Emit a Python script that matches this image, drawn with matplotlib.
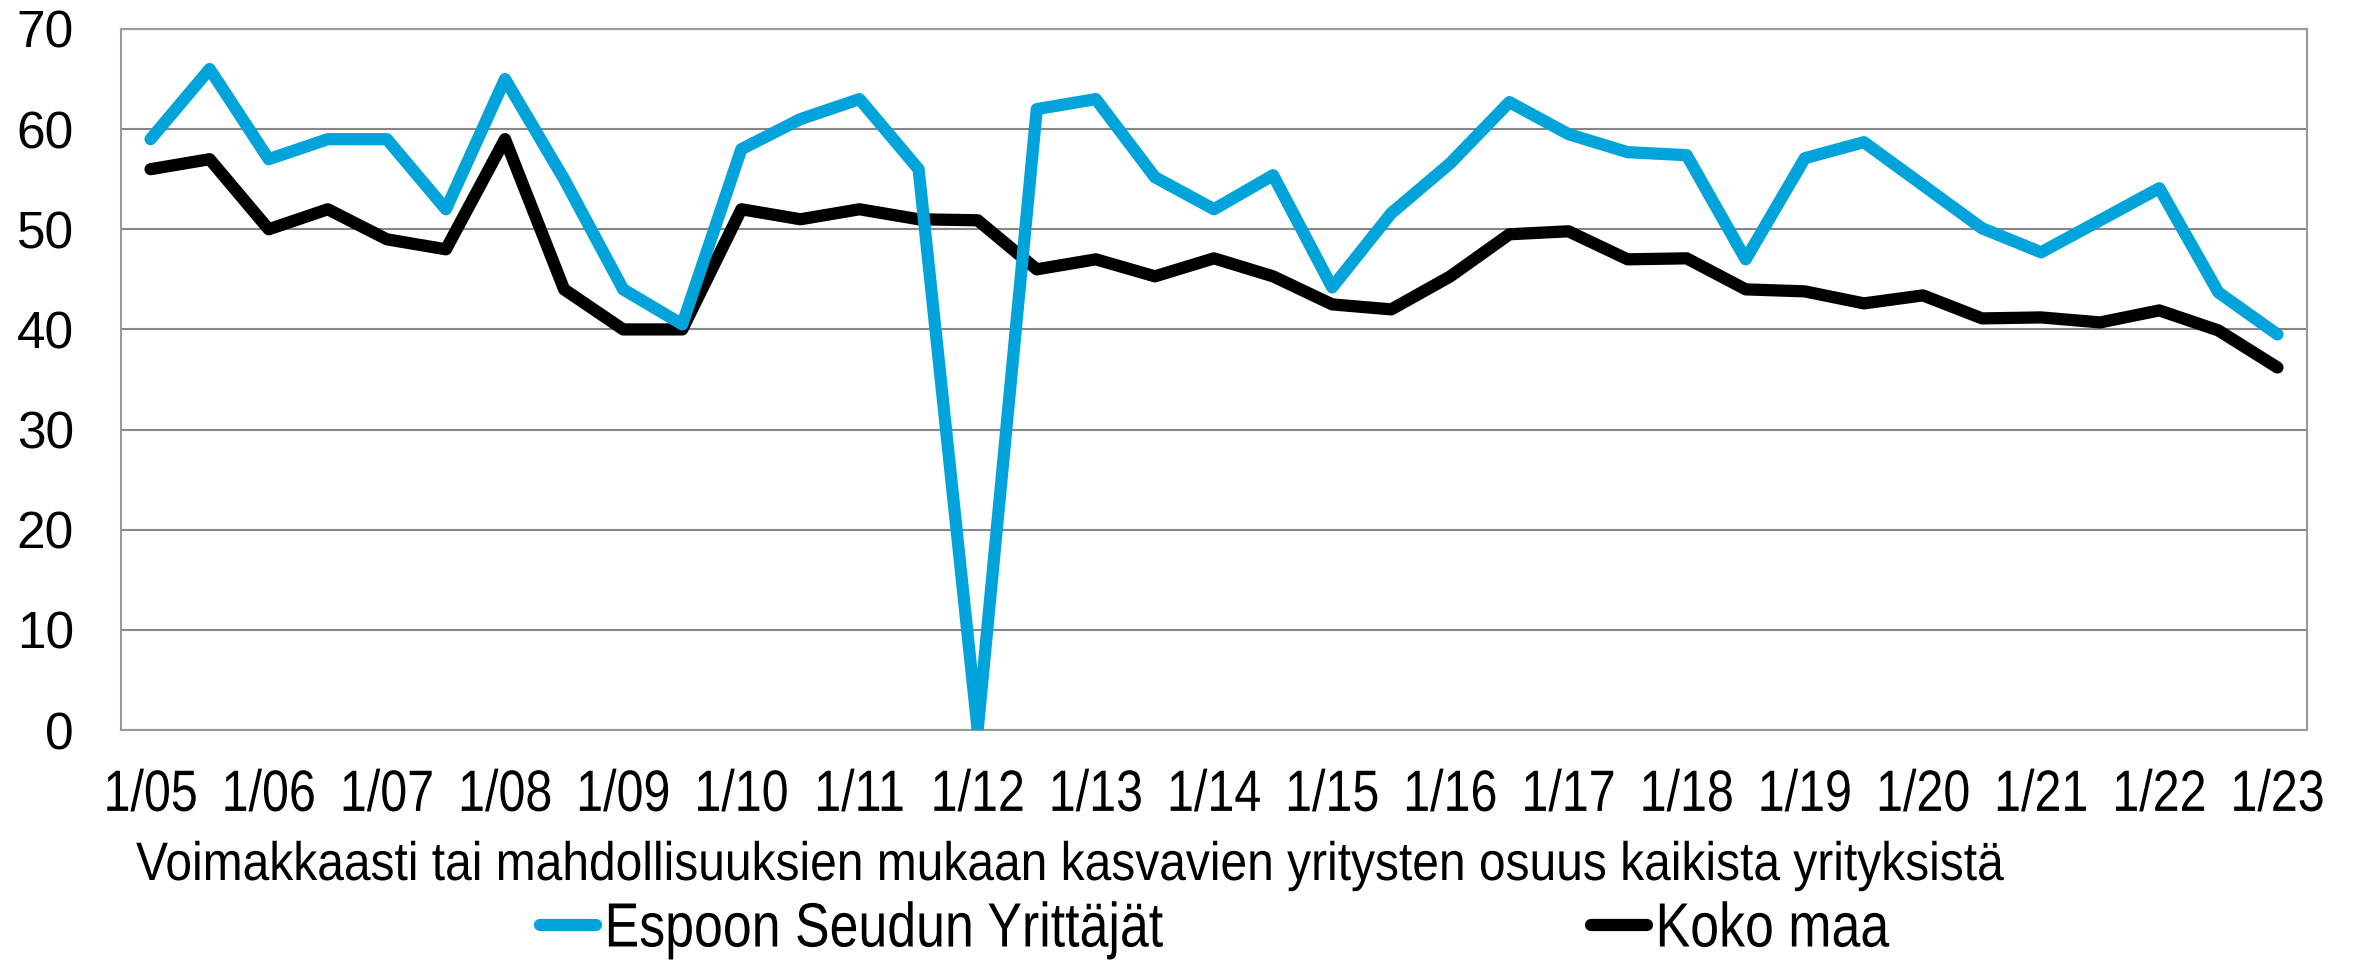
import matplotlib
matplotlib.use("Agg")
import matplotlib.pyplot as plt
from matplotlib.patheffects import AbstractPathEffect
from matplotlib.transforms import Affine2D

plt.rcParams['font.family'] = ['Liberation Sans', 'DejaVu Sans']

# Half-yearly observations, 1/05 ... 1/23
tick_labels = ["1/05", "1/06", "1/07", "1/08", "1/09", "1/10", "1/11", "1/12", "1/13",
               "1/14", "1/15", "1/16", "1/17", "1/18", "1/19", "1/20", "1/21", "1/22", "1/23"]

espoo = [59, 66, 57, 59, 59, 52, 65, 55, 44, 40.5, 58, 61, 63, 56, 0, 62, 63, 55.2, 52,
         55.4, 44.2, 51.6, 56.6, 62.7, 59.5, 57.7, 57.4, 47, 57.1, 58.7, 54.4, 50.1, 47.7,
         50.9, 54.1, 43.7, 39.5]
koko_maa = [56, 57, 50, 52, 49, 48, 59, 44, 40, 40, 52, 51, 52, 51, 50.9, 46, 47, 45.3,
            47.1, 45.3, 42.5, 42, 45.3, 49.5, 49.8, 47, 47.1, 44, 43.8, 42.6, 43.4, 41.1,
            41.2, 40.7, 41.9, 39.9, 36.2]

series_names = ["Espoon Seudun Yrittäjät", "Koko maa"]
series_colors = ["#00A4DA", "black"]
xlabel_text = "Voimakkaasti tai mahdollisuuksien mukaan kasvavien yritysten osuus kaikista yrityksistä"


class HScale(AbstractPathEffect):
    """Horizontally condense the text glyphs about their centre or left edge."""

    def __init__(self, sx, anchor="center"):
        super().__init__()
        self.sx = sx
        self.anchor = anchor

    def draw_path(self, renderer, gc, tpath, affine, rgbFace=None):
        ext = tpath.get_extents(affine)
        cx = (ext.x0 + ext.x1) / 2 if self.anchor == "center" else ext.x0
        t = affine + Affine2D().translate(-cx, 0).scale(self.sx, 1).translate(cx, 0)
        renderer.draw_path(gc, tpath, t, rgbFace)


W, H = 2364, 960
fig = plt.figure(figsize=(W / 100, H / 100), dpi=100)
ax = fig.add_axes([121 / W, 1 - 730 / H, (2307 - 121) / W, (730 - 29) / H])

x = list(range(len(espoo)))
ln_k, = ax.plot(x, koko_maa, color=series_colors[1], lw=8.8, solid_capstyle="round",
                solid_joinstyle="round", zorder=3)
ln_e, = ax.plot(x, espoo, color=series_colors[0], lw=8.8, solid_capstyle="round",
                solid_joinstyle="round", zorder=4)

ax.set_xlim(-0.5, len(espoo) - 0.5)
ax.set_ylim(0, 70)
ax.set_yticks(range(0, 71, 10))
ax.set_xticks(x[::2])
ax.set_xticklabels(tick_labels, fontsize=42)
for t in ax.get_xticklabels():
    t.set_path_effects([HScale(0.83, "center")])
ax.tick_params(axis="x", length=0, pad=28)
ax.tick_params(axis="y", length=0, pad=34, labelsize=37)

ax.yaxis.grid(True, color="#878787", lw=1.5)
ax.set_axisbelow(True)
for s in ax.spines.values():
    s.set_color("#9a9a9a")
    s.set_linewidth(1.5)

xl = fig.text(136 / W, 1 - 880 / H, xlabel_text, ha="left", va="baseline", fontsize=39)
xl.set_path_effects([HScale(0.885, "left")])

# Two legend entries, placed at the reference positions of their handles
for line, name, x0 in [(ln_e, series_names[0], 540), (ln_k, series_names[1], 1591)]:
    lg = fig.legend([line], [name], loc="center left",
                    bbox_to_anchor=(x0 / W, 1 - 930 / H), frameon=False,
                    fontsize=45, handlelength=0.9, handletextpad=0.12,
                    borderpad=0, borderaxespad=0)
    for t in lg.get_texts():
        t.set_path_effects([HScale(0.83, "left")])

fig.savefig("out.png", dpi=100)
